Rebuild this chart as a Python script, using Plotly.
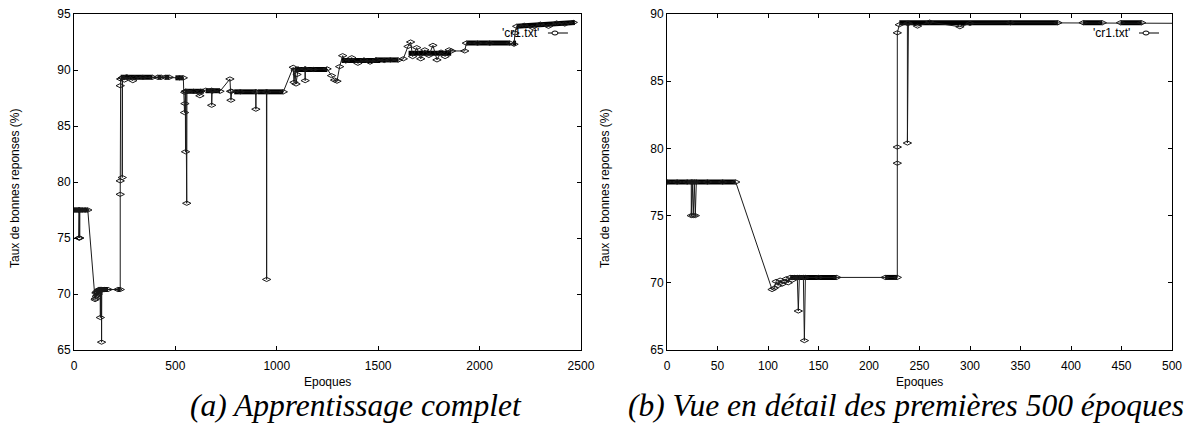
import plotly.graph_objects as go

# Courbe 'cr1.txt' : taux de bonnes reponses (%) en fonction de l'epoque
epoques = [0, 10, 20, 24, 24, 25, 26, 27, 28, 29, 40, 55, 68,
           104, 106, 108, 110, 112, 114, 116, 118, 120, 122, 124, 126,
           129, 130, 131, 135, 136, 137, 150, 168, 216, 228,
           228, 228, 228, 230, 238, 238, 239, 248, 260, 290, 300, 340,
           387, 412, 431, 449, 470, 520, 539,
           545, 546, 547, 549, 550, 552, 556, 557, 590, 621, 625, 650,
           679, 679, 681, 720, 769, 772, 774, 778, 820, 896, 897, 898,
           949, 950, 951, 1032, 1081, 1085, 1090, 1095, 1100, 1105,
           1139, 1140, 1141, 1180, 1248, 1270, 1285, 1297, 1310, 1325,
           1340, 1370, 1400, 1430, 1460, 1490, 1530, 1560, 1599, 1624,
           1647, 1660, 1670, 1690, 1710, 1730, 1750, 1770, 1790, 1810,
           1830, 1850, 1862, 1927, 1935, 1990, 2050, 2150, 2170, 2175,
           2183, 2220, 2260, 2300, 2340, 2380, 2420, 2462]
taux = [77.5, 77.5, 77.5, 77.5, 75.0, 77.5, 75.0, 77.5, 75.0, 77.5, 77.5, 77.5, 77.5,
        69.5, 69.6, 70.1, 69.8, 70.2, 69.9, 70.1, 70.3, 70.0, 70.4, 70.2, 70.4,
        70.4, 67.9, 70.4, 70.4, 65.7, 70.4, 70.4, 70.4, 70.4, 70.4,
        78.9, 80.1, 88.6, 89.2, 89.3, 80.4, 89.3, 89.1, 89.4, 89.05, 89.3, 89.35,
        89.35, 89.35, 89.35, 89.35, 89.35, 89.3, 89.3,
        86.2, 88.0, 87.0, 88.1, 82.7, 88.1, 78.1, 88.1, 88.1, 87.7, 88.1, 88.2,
        88.2, 86.85, 88.1, 88.1, 89.2, 88.1, 87.3, 88.1, 88.05, 88.05, 86.5, 88.05,
        88.05, 71.3, 88.05, 88.05, 90.24, 88.9, 90.0, 88.75, 89.6, 90.1,
        90.1, 89.05, 90.1, 90.05, 90.1, 89.5, 89.1, 89.0, 90.3, 91.28,
        90.8, 91.1, 90.6, 90.9, 90.7, 90.9, 90.85, 90.9, 90.89, 91.0,
        92.1, 92.5, 91.2, 92.0, 91.0, 91.8, 91.3, 92.2, 90.9, 91.6,
        91.2, 91.8, 91.7, 91.7, 92.4, 92.4, 92.4, 92.4, 92.3, 93.3,
        93.9, 94.0, 93.8, 94.1, 93.9, 94.2, 94.1, 94.25]

# zones ou les points sont si serres qu'ils forment un trait epais
dense_debut = [0, 122, 216, 230, 412, 449, 500, 547, 650, 790, 905, 1090, 1320, 1484, 1650, 1935, 2165, 2183]
dense_fin = [68, 168, 228, 387, 431, 470, 540, 640, 720, 900, 1032, 1248, 1510, 1600, 1860, 2150, 2180, 2470]
dense_taux_debut = [77.5, 70.4, 70.4, 89.35, 89.35, 89.35, 89.3, 88.1, 88.15, 88.05, 88.05, 90.05, 90.85, 90.9, 91.5, 92.4, 92.4, 93.9]
dense_taux_fin = [77.5, 70.4, 70.4, 89.35, 89.35, 89.35, 89.3, 88.1, 88.15, 88.05, 88.05, 90.05, 90.85, 90.9, 91.5, 92.4, 92.4, 94.25]

legende = "'cr1.txt'"
titre_x = "Epoques"
titre_y = "Taux de bonnes reponses (%)"
legende_a = "(a) Apprentissage complet"
legende_b = "(b) Vue en détail des premières 500 époques"

dense_x, dense_y = [], []
for d, f, td, tf in zip(dense_debut, dense_fin, dense_taux_debut, dense_taux_fin):
    dense_x += [d, f, None]
    dense_y += [td, tf, None]

COULEUR = "#1a1a1a"
police = dict(family="Liberation Sans, Arial, sans-serif", size=12, color="black")

fig = go.Figure()
for xa, ya in [("x", "y"), ("x2", "y2")]:
    fig.add_trace(go.Scatter(
        x=dense_x, y=dense_y, xaxis=xa, yaxis=ya, mode="lines",
        line=dict(color="black", width=5), hoverinfo="skip", showlegend=False))
    fig.add_trace(go.Scatter(
        x=epoques, y=taux, xaxis=xa, yaxis=ya, mode="lines+markers",
        line=dict(color=COULEUR, width=1),
        marker=dict(symbol="diamond-wide-open", size=6, color=COULEUR, line=dict(width=1)),
        name=legende, showlegend=False))

axe = dict(showline=True, linecolor="black", linewidth=1, mirror="ticks",
           ticks="inside", ticklen=4, tickcolor="black", showgrid=False,
           zeroline=False, tickfont=police, automargin=False)

fig.update_layout(
    width=1188, height=426,
    margin=dict(l=74, r=16, t=14, b=76),
    paper_bgcolor="white", plot_bgcolor="white",
    xaxis=dict(axe, domain=[0, 0.4617], range=[0, 2500], dtick=500, anchor="y", ticklabelstandoff=5),
    yaxis=dict(axe, domain=[0, 1], range=[65, 95], dtick=5, anchor="x"),
    xaxis2=dict(axe, domain=[0.5401, 1], range=[0, 500], dtick=50, anchor="y2", ticklabelstandoff=5),
    yaxis2=dict(axe, domain=[0, 1], range=[65, 90], dtick=5, anchor="x2"),
)

annotations = []
shapes = []
for sx, sy, decal_y in [("x", "y", -59), ("x2", "y2", -62)]:
    annotations.append(dict(text=titre_x, xref=sx + " domain", yref=sy + " domain",
                            x=0.5, y=0, yshift=-32, showarrow=False,
                            xanchor="center", yanchor="middle", font=police))
    annotations.append(dict(text=titre_y, xref=sx + " domain", yref=sy + " domain",
                            x=0, y=0.5, xshift=decal_y, yshift=-7, textangle=-90,
                            showarrow=False, xanchor="center", yanchor="middle", font=police))
    # cle a la gnuplot
    annotations.append(dict(text=legende, xref=sx + " domain", yref=sy + " domain",
                            x=1, y=1, xshift=-40, yshift=-19, showarrow=False,
                            xanchor="right", yanchor="middle", font=police))
    shapes.append(dict(type="line", xref=sx + " domain", yref=sy + " domain",
                       xsizemode="pixel", ysizemode="pixel", xanchor=1, yanchor=1,
                       x0=-33, x1=-13, y0=-19, y1=-19, line=dict(color="black", width=1)))
    shapes.append(dict(type="circle", xref=sx + " domain", yref=sy + " domain",
                       xsizemode="pixel", ysizemode="pixel", xanchor=1, yanchor=1,
                       x0=-29, x1=-23, y0=-21, y1=-17, line=dict(color="black", width=1),
                       fillcolor="white"))

police_legende = dict(family="Liberation Serif, Times New Roman, serif", size=31.5, color="black")
annotations.append(dict(text="<i>" + legende_a + "</i>", xref="paper", yref="paper",
                        x=0.2568, y=0, yshift=-55, showarrow=False,
                        xanchor="center", yanchor="middle", font=police_legende))
annotations.append(dict(text="<i>" + legende_b + "</i>", xref="paper", yref="paper",
                        x=0.7577, y=0, yshift=-55, showarrow=False,
                        xanchor="center", yanchor="middle", font=police_legende))

fig.update_layout(annotations=annotations, shapes=shapes)

# la page ajoute une marge de 8 px autour du graphique : on l'enleve
fig.write_html("out.html", config={"displayModeBar": False},
               post_script="document.body.style.margin='0';document.body.style.overflow='hidden';")
